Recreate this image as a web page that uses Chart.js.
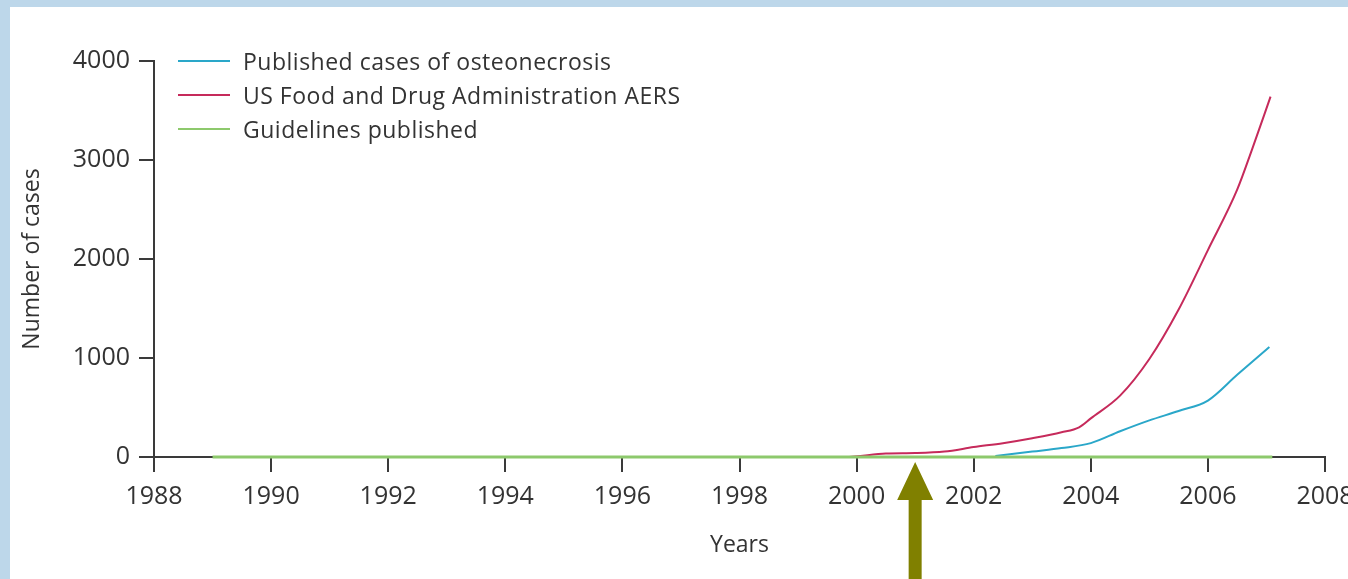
<!DOCTYPE html>
<html>
<head>
<meta charset="utf-8">
<script src="https://cdn.jsdelivr.net/npm/chart.js@4.4.1/dist/chart.umd.min.js"></script>
<style>
  html, body { margin: 0; padding: 0; }
  body { width: 1348px; height: 579px; overflow: hidden; background: #bdd7ea; position: relative; font-family: 'Open Sans', sans-serif; }
  #panel { position: absolute; left: 10px; top: 7px; right: 0; bottom: 0; background: #fff; }
  #chart { position: absolute; left: 0; top: 0; }
  #legend { position: absolute; left: 178px; top: 44px; color: #333; font-size: 23px; letter-spacing: 0.5px; }
  .item { height: 34px; display: flex; align-items: center; }
  .swatch { width: 52px; height: 2px; margin-right: 13px; }
</style>
</head>
<body>
<div id="panel"></div>
<canvas id="chart" width="1400" height="579"></canvas>
<div id="legend"></div>
<script>
// data
const publishedYears = [2002.37, 2003, 2003.5, 2004, 2004.5, 2005, 2005.5, 2006, 2006.5, 2007.05];
const publishedCases = [10, 55, 90, 140, 260, 370, 465, 570, 830, 1110];

const aersYears = [1990, 1992, 1994, 1996, 1998, 1999.8, 2000.5, 2001, 2001.5, 2002, 2002.5, 2003, 2003.5, 2003.8, 2004, 2004.5, 2005, 2005.5, 2006, 2006.5, 2006.75, 2007.07];
const aersCases = [0, 0, 0, 0, 0, 0, 35, 40, 55, 100, 140, 190, 250, 300, 390, 620, 990, 1490, 2090, 2700, 3100, 3640];

const guidelineYears = [1989, 2007.1];
const guidelineCases = [0, 0];

const yearTicks = [1988, 2008, 2];      // min, max, step
const caseTicks = [0, 4000, 1000];
const arrowYear = 2001;

const seriesLabels = ['Published cases of osteonecrosis', 'US Food and Drug Administration AERS', 'Guidelines published'];
const seriesColors = ['#2aa7c9', '#c62a5b', '#8dc96c'];

function toPoints(xs, ys) {
  return xs.map((x, i) => ({ x: x, y: ys[i] }));
}

// legend as plain text
let legend = document.getElementById('legend');
seriesLabels.forEach((lab, i) => {
  legend.innerHTML += `<div class="item"><span class="swatch" style="background:${seriesColors[i]}"></span>${lab}</div>`;
});

const axisColor = '#3a3a3a';
Chart.defaults.font.family = "'Open Sans', sans-serif";
Chart.defaults.color = '#333';

const arrowPlugin = {
  id: 'arrow',
  afterDraw(chart) {
    const ctx = chart.ctx;
    const x = chart.scales.x.getPixelForValue(arrowYear);
    const y0 = chart.scales.y.getPixelForValue(0);
    const tip = y0 + 5, base = y0 + 43, bottom = chart.height;
    ctx.save();
    ctx.fillStyle = '#808000';
    ctx.beginPath();
    ctx.moveTo(x, tip);
    ctx.lineTo(x + 18, base);
    ctx.lineTo(x + 6.5, base);
    ctx.lineTo(x + 6.5, bottom);
    ctx.lineTo(x - 6.5, bottom);
    ctx.lineTo(x - 6.5, base);
    ctx.lineTo(x - 18, base);
    ctx.closePath();
    ctx.fill();
    ctx.restore();
  }
};

const lineDefaults = { borderWidth: 2, pointRadius: 0, cubicInterpolationMode: 'monotone', fill: false, clip: 4 };

new Chart(document.getElementById('chart'), {
  type: 'line',
  data: {
    datasets: [
      { ...lineDefaults, label: seriesLabels[0], data: toPoints(publishedYears, publishedCases), borderColor: seriesColors[0], order: 1 },
      { ...lineDefaults, label: seriesLabels[1], data: toPoints(aersYears, aersCases), borderColor: seriesColors[1], order: 2 },
      { ...lineDefaults, label: seriesLabels[2], data: toPoints(guidelineYears, guidelineCases), borderColor: seriesColors[2], borderWidth: 3, order: 0 }
    ]
  },
  options: {
    responsive: false,
    animation: false,
    layout: { padding: { left: 0, top: 61, right: 75, bottom: 0 } },
    plugins: { legend: { display: false }, tooltip: { enabled: false } },
    scales: {
      x: {
        type: 'linear',
        min: yearTicks[0], max: yearTicks[1],
        afterFit(scale) { scale.height = 122; },
        ticks: { stepSize: yearTicks[2], padding: 10, font: { size: 25 }, color: '#333', callback: v => String(v) },
        grid: { drawOnChartArea: false, drawTicks: true, tickLength: 15, tickColor: axisColor, lineWidth: 2 },
        border: { display: true, color: axisColor, width: 2 },
        title: { display: true, text: 'Years', font: { size: 23 }, color: '#333', padding: { top: 0, bottom: 20 } }
      },
      y: {
        min: caseTicks[0], max: caseTicks[1],
        afterFit(scale) { scale.width = 154; },
        ticks: { stepSize: caseTicks[2], padding: 9, font: { size: 25 }, color: '#333', callback: v => String(v) },
        grid: { drawOnChartArea: false, drawTicks: true, tickLength: 15, tickColor: axisColor, lineWidth: 2 },
        border: { display: true, color: axisColor, width: 2 },
        title: { display: true, text: 'Number of cases', font: { size: 23 }, color: '#333', padding: { top: 19, bottom: 0 } }
      }
    }
  },
  plugins: [arrowPlugin]
});
</script>
</body>
</html>
